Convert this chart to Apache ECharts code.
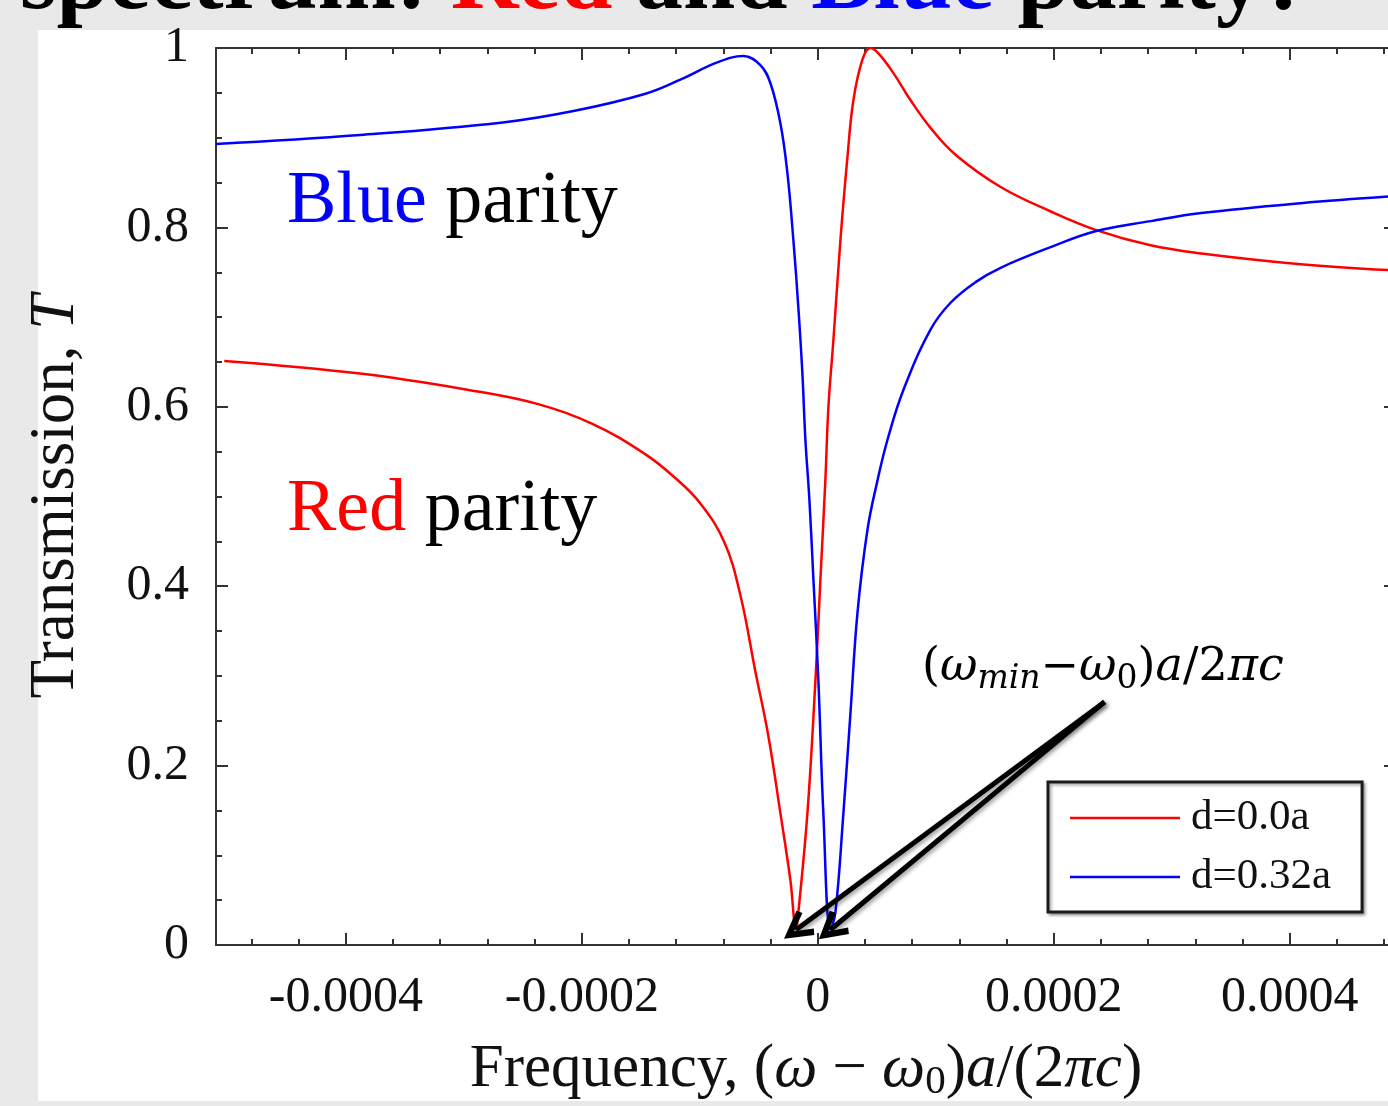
<!doctype html>
<meta charset="utf-8">
<style>
  html, body { margin: 0; padding: 0; width: 100%; height: 100%; overflow: hidden; background: #e9e9e9; }
  #chart { width: 1388px; height: 1106px; }
</style>
<script src="https://cdn.jsdelivr.net/npm/echarts@6/dist/echarts.min.js"></script>

<div id="chart"></div>

<script>
  const X_MIN = -0.00051, X_MAX = 0.00049;
  const legendNames = ['d=0.0a', 'd=0.32a'];

  // d=0.0a (red parity)
  const redX = [-0.000503, -0.000388, -0.000297, -0.000237, -0.000191, -0.000146, -0.000122, -0.000100,
    -0.0000792, -0.0000656, -0.0000529, -0.0000419, -0.0000317, -0.0000232, -0.0000184,
    -0.0000165, -0.0000088, -0.0000020, 0.0000022, 0.0000064, 0.0000090, 0.0000132, 0.0000192,
    0.0000251, 0.0000302, 0.0000378, 0.0000446, 0.0000514, 0.0000641, 0.0000785, 0.0000955,
    0.0001167, 0.000155, 0.000197, 0.000236, 0.000282, 0.000325, 0.0004093, 0.00049];
  const redT = [0.651, 0.637, 0.619, 0.603, 0.581, 0.547, 0.522, 0.493,
    0.449, 0.390, 0.305, 0.233, 0.147, 0.072, 0.017,
    0.036, 0.147, 0.295, 0.407, 0.518, 0.600, 0.674, 0.786,
    0.878, 0.942, 0.987, 1.0, 0.994, 0.972, 0.942, 0.911,
    0.881, 0.845, 0.818, 0.797, 0.780, 0.771, 0.759, 0.752];

  // d=0.32a (blue parity)
  const blueX = [-0.00051, -0.000388, -0.000267, -0.000206, -0.000146, -0.000116, -0.0000852, -0.0000631,
    -0.0000487, -0.0000402, -0.0000317, -0.0000258, -0.0000207, -0.0000165, -0.0000131, -0.0000105,
    -0.0000071, -0.0000037, 0.0000005, 0.0000047, 0.0000107, 0.0000149, 0.0000217, 0.0000277,
    0.0000336, 0.0000421, 0.0000506, 0.0000590, 0.0000726, 0.0000955, 0.0001125, 0.0001337,
    0.0001549, 0.0001973, 0.000236, 0.000282, 0.000325, 0.0004093, 0.00049];
  const blueT = [0.893, 0.903, 0.917, 0.930, 0.949, 0.965, 0.984, 0.991,
    0.981, 0.961, 0.916, 0.861, 0.786, 0.711, 0.638, 0.563,
    0.496, 0.407, 0.295, 0.147, 0.017, 0.036, 0.147, 0.259,
    0.370, 0.463, 0.518, 0.563, 0.619, 0.686, 0.716, 0.739,
    0.755, 0.778, 0.796, 0.807, 0.816, 0.827, 0.835];

  // where the two annotation arrows start
  const arrowFrom = [0.000243, 0.271];

  const SERIF = '"Liberation Serif", "Times New Roman", serif';
  const MATH = '"DejaVu Serif", serif';
  const AXIS_COLOR = '#333';

  function pairs(xs, ys) { return xs.map((x, i) => [x, ys[i]]); }
  function minPoint(xs, ys) {
    let k = 0;
    ys.forEach((v, i) => { if (v < ys[k]) k = i; });
    return [xs[k], ys[k]];
  }

  let chart = echarts.init(document.getElementById('chart'));

  const tickCommon = {
    axisLine: { onZero: false, lineStyle: { color: AXIS_COLOR, width: 2 } },
    axisTick: { inside: true, length: 12, lineStyle: { color: AXIS_COLOR, width: 2 } },
    splitLine: { show: false }
  };
  function minor(n) {
    return { show: true, splitNumber: n, length: 6, lineStyle: { color: AXIS_COLOR, width: 2 } };
  }

  const labelFont = { fontFamily: SERIF, fontSize: 50, color: '#111' };

  chart.setOption({
    backgroundColor: '#e9e9e9',
    animation: false,
    graphic: [
      { type: 'rect', z: -10, shape: { x: 38, y: 30, width: 1360, height: 1071 }, style: { fill: '#fff' } },
      {
        type: 'text', x: 20, y: 31,
        style: {
          text: '{k|spectrum: }{r|Red}{k| and }{b|Blue}{k| parity?}',
          verticalAlign: 'bottom',
          rich: {
            k: { fontFamily: SERIF, fontSize: 94, fontWeight: 'bold', fill: '#000' },
            r: { fontFamily: SERIF, fontSize: 94, fontWeight: 'bold', fill: '#ff0000' },
            b: { fontFamily: SERIF, fontSize: 94, fontWeight: 'bold', fill: '#0000ff' }
          }
        }
      },
      {
        type: 'text', x: 287, y: 203,
        style: {
          text: '{c|Blue}{k| parity}', verticalAlign: 'middle',
          rich: {
            c: { fontFamily: SERIF, fontSize: 74, fill: '#0000ff' },
            k: { fontFamily: SERIF, fontSize: 74, fill: '#000' }
          }
        }
      },
      {
        type: 'text', x: 287, y: 511,
        style: {
          text: '{c|Red}{k| parity}', verticalAlign: 'middle',
          rich: {
            c: { fontFamily: SERIF, fontSize: 74, fill: '#ff0000' },
            k: { fontFamily: SERIF, fontSize: 74, fill: '#000' }
          }
        }
      },
      {
        type: 'text', x: 922, y: 668,
        style: {
          text: '{p|(}{i|ω}{s|min}{p|−}{i|ω}{z|0}{p|)}{i|a}{p|/2}{i|πc}', verticalAlign: 'middle',
          rich: {
            p: { fontFamily: MATH, fontSize: 46, fill: '#000' },
            i: { fontFamily: MATH, fontSize: 46, fontStyle: 'italic', fill: '#000' },
            s: { fontFamily: MATH, fontSize: 33, fontStyle: 'italic', fill: '#000', padding: [22, 0, 0, 0] },
            z: { fontFamily: MATH, fontSize: 33, fill: '#000', padding: [22, 0, 0, 0] }
          }
        }
      }
    ],
    grid: { left: 216, right: -8, top: 48, bottom: 161, outerBoundsMode: 'none' },
    legend: {
      data: legendNames,
      orient: 'vertical',
      left: 1048, top: 782,
      padding: [14, 31, 13, 22],
      icon: 'rect',
      itemWidth: 110, itemHeight: 2.5, itemGap: 15,
      backgroundColor: '#fff',
      borderColor: '#1a1a1a', borderWidth: 3, borderRadius: 0,
      shadowBlur: 3, shadowColor: 'rgba(0,0,0,0.35)', shadowOffsetX: 2, shadowOffsetY: 2,
      textStyle: { fontFamily: SERIF, fontSize: 43, color: '#111', lineHeight: 44, padding: [0, 0, 0, 6] }
    },
    xAxis: [
      Object.assign({
        type: 'value', min: X_MIN, max: X_MAX, splitNumber: 5, position: 'bottom',
        axisLabel: Object.assign({ margin: 28, showMinLabel: false, showMaxLabel: false }, labelFont),
        minorTick: minor(5),
        name: '{n|Frequency, (}{i|ω}{n| − }{i|ω}{s|0}{n|)}{i|a}{n|/(2}{i|πc}{n|)}',
        nameLocation: 'middle', nameGap: 91,
        nameTextStyle: {
          rich: {
            n: { fontFamily: SERIF, fontSize: 61, color: '#111' },
            i: { fontFamily: SERIF, fontSize: 61, fontStyle: 'italic', color: '#111' },
            s: { fontFamily: SERIF, fontSize: 41, color: '#111', padding: [26, 0, 0, 0] }
          }
        }
      }, tickCommon),
      Object.assign({
        type: 'value', min: X_MIN, max: X_MAX, splitNumber: 5, position: 'top',
        axisLabel: { show: false },
        minorTick: minor(5)
      }, tickCommon)
    ],
    yAxis: [
      Object.assign({
        type: 'value', min: 0, max: 1, interval: 0.2, position: 'left',
        axisLabel: Object.assign({ margin: 27 }, labelFont),
        minorTick: minor(4),
        name: '{n|Transmission, }{i|T}',
        nameLocation: 'middle', nameGap: 128,
        nameTextStyle: {
          rich: {
            n: { fontFamily: SERIF, fontSize: 63, color: '#111' },
            i: { fontFamily: SERIF, fontSize: 63, fontStyle: 'italic', color: '#111' }
          }
        }
      }, tickCommon),
      Object.assign({
        type: 'value', min: 0, max: 1, interval: 0.2, position: 'right',
        axisLabel: { show: false },
        minorTick: minor(4)
      }, tickCommon)
    ],
    series: [
      {
        name: legendNames[0],
        type: 'line',
        data: pairs(redX, redT),
        symbol: 'none',
        smooth: 0.4,
        lineStyle: { color: '#ff0000', width: 2.5 },
        itemStyle: { color: '#ff0000' },
        markLine: {
          silent: true,
          symbol: ['none', 'path://M5,0 L10,8.5 L8.2,9.6 L5,4 L1.8,9.6 L0,8.5 Z'],
          symbolSize: [30, 30],
          label: { show: false },
          lineStyle: {
            color: '#000', width: 5, type: 'solid',
            shadowBlur: 4, shadowColor: 'rgba(0,0,0,0.4)', shadowOffsetX: 2, shadowOffsetY: 2
          },
          data: [
            [{ coord: arrowFrom }, { coord: minPoint(redX, redT) }],
            [{ coord: arrowFrom }, { coord: minPoint(blueX, blueT) }]
          ]
        }
      },
      {
        name: legendNames[1],
        type: 'line',
        data: pairs(blueX, blueT),
        symbol: 'none',
        smooth: 0.4,
        lineStyle: { color: '#0000ff', width: 2.5 },
        itemStyle: { color: '#0000ff' }
      }
    ]
  });
</script>
